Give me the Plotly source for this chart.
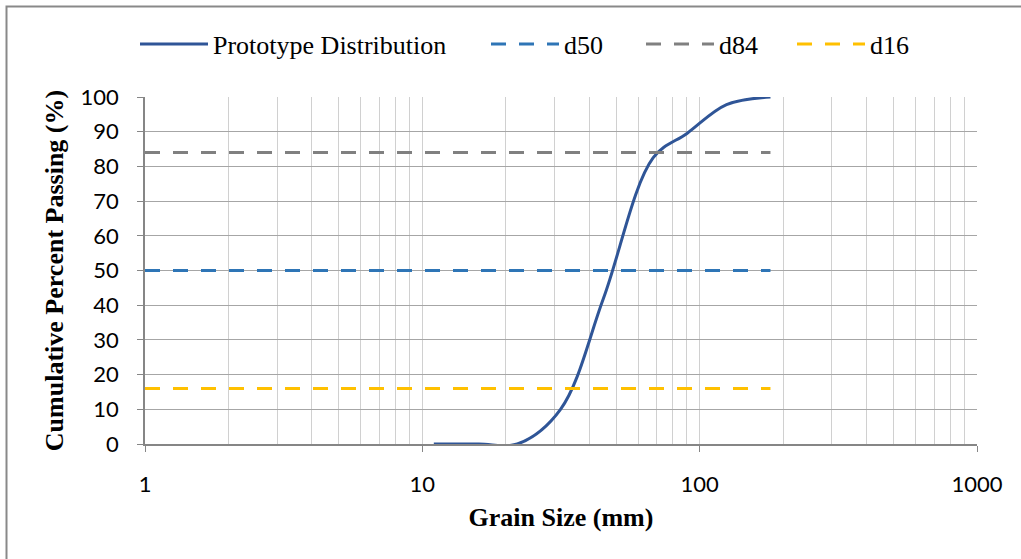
import plotly.graph_objects as go

# Data
grain_size_mm = [11, 16, 22, 31.5, 45, 68, 90, 125, 180]
percent_passing = [0, 0, 0, 10, 42, 82.5, 89.5, 97.8, 100]

ref_x = [1, 180]
d50_vals = [50, 50]
d84_vals = [84, 84]
d16_vals = [16, 16]

x_tick_vals = [1, 10, 100, 1000]
x_tick_text = ["1", "10", "100", "1000"]
y_tick_vals = [0, 10, 20, 30, 40, 50, 60, 70, 80, 90, 100]

SERIF = "Liberation Serif, Times New Roman, serif"
SANS = "Lato, Calibri, sans-serif"
DASH = "15px,13px"

L, R, T, B = 145, 44, 97, 115
W, H = 1021, 559
pw, ph = W - L - R, H - T - B


def px_x(p):
    return (p - L) / pw


def px_y(p):
    return (H - B - p) / ph


fig = go.Figure()
fig.add_trace(go.Scatter(
    x=grain_size_mm, y=percent_passing, mode="lines", name="Prototype Distribution",
    line=dict(color="#2F5597", width=3, shape="spline", smoothing=1), legend="legend",
))
fig.add_trace(go.Scatter(
    x=ref_x, y=d50_vals, mode="lines", name="d50",
    line=dict(color="#2E75B6", width=3, dash=DASH), legend="legend2",
))
fig.add_trace(go.Scatter(
    x=ref_x, y=d84_vals, mode="lines", name="d84",
    line=dict(color="#808080", width=3, dash=DASH), legend="legend3",
))
fig.add_trace(go.Scatter(
    x=ref_x, y=d16_vals, mode="lines", name="d16",
    line=dict(color="#FFC000", width=3, dash=DASH), legend="legend4",
))


def legend_at(left_px):
    return dict(
        orientation="h", x=px_x(left_px - 6), xanchor="left", y=px_y(44), yanchor="middle",
        font=dict(family=SERIF, size=26, color="black"),
        itemwidth=68, bgcolor="rgba(0,0,0,0)", borderwidth=0,
    )


fig.update_layout(
    width=W, height=H,
    margin=dict(l=L, r=R, t=T, b=B, pad=0),
    paper_bgcolor="white", plot_bgcolor="white",
    showlegend=True,
    legend=legend_at(141),
    legend2=legend_at(492),
    legend3=legend_at(647),
    legend4=legend_at(798),
    xaxis=dict(
        type="log", range=[0, 3],
        tickvals=x_tick_vals, ticktext=x_tick_text,
        showline=True, linecolor="#868686", linewidth=1.5,
        ticks="outside", ticklen=6, tickcolor="#868686",
        showgrid=True, gridcolor="#D0D0D0", gridwidth=1,
        minor=dict(dtick="D1", showgrid=True, gridcolor="#D0D0D0", gridwidth=1, ticks=""),
        tickfont=dict(family=SANS, size=22, color="black"),
        ticklabelstandoff=14,
        title=dict(text="<b>Grain Size (mm)</b>", font=dict(family=SERIF, size=26, color="black"), standoff=12),
        zeroline=False,
    ),
    yaxis=dict(
        range=[0, 100], tickvals=y_tick_vals,
        showline=True, linecolor="#868686", linewidth=1.5,
        ticks="outside", ticklen=6, tickcolor="#868686",
        showgrid=True, gridcolor="#A6A6A6", gridwidth=1,
        tickfont=dict(family=SANS, size=22, color="black"),
        ticklabelstandoff=14,
        title=dict(text="<b>Cumulative Percent Passing (%)</b>", font=dict(family=SERIF, size=26, color="black"), standoff=9),
        zeroline=False,
    ),
    shapes=[
        dict(type="path", xref="paper", yref="paper",
             path=f"M {px_x(6.5)} {px_y(H + 5)} L {px_x(6.5)} {px_y(6.5)} L {px_x(W + 5)} {px_y(6.5)}",
             line=dict(color="#898989", width=2), layer="above"),
    ],
)

fig.write_html("out.html")
